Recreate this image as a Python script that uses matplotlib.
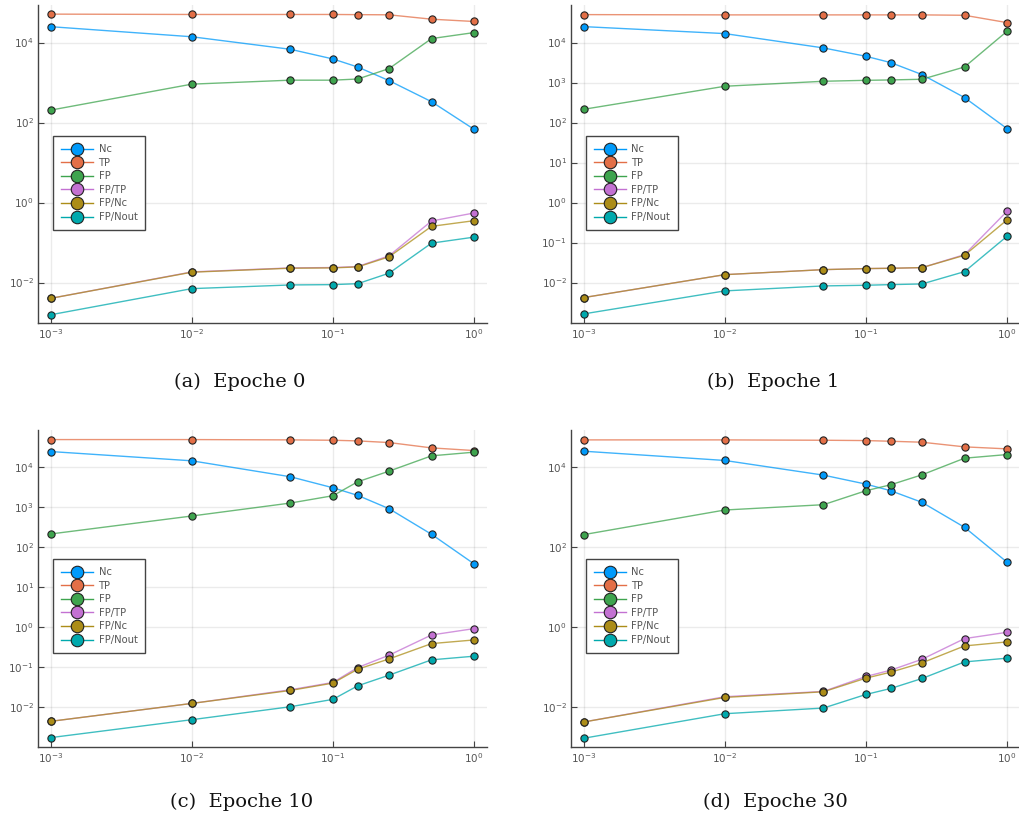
import numpy as np
import matplotlib
matplotlib.use("Agg")
import matplotlib.pyplot as plt
from matplotlib.ticker import FixedLocator, LogFormatterSciNotation, NullLocator
from matplotlib.lines import Line2D

# ---------------- data ----------------
thresholds = [0.001, 0.01, 0.05, 0.1, 0.15, 0.25, 0.5, 1.0]
series_names = ["Nc", "TP", "FP", "FP/TP", "FP/Nc", "FP/Nout"]
captions = ["(a)  Epoche 0", "(b)  Epoche 1", "(c)  Epoche 10", "(d)  Epoche 30"]

# Epoche 0
e0_Nc = [25000, 14000, 6800, 3900, 2450, 1120, 333, 68]
e0_TP = [51500, 50500, 50500, 50500, 50000, 49500, 38500, 33700]
e0_FP = [205, 915, 1150, 1150, 1230, 2240, 12600, 17800]
e0_FP_TP = [0.00404, 0.0185, 0.0233, 0.0238, 0.0252, 0.0467, 0.347, 0.55]
e0_FP_Nc = [0.00404, 0.0182, 0.0229, 0.0233, 0.0247, 0.0441, 0.255, 0.353]
e0_FP_Nout = [0.00157, 0.00707, 0.00873, 0.0089, 0.0094, 0.0172, 0.097, 0.137]

# Epoche 1
e1_Nc = [25100, 16800, 7360, 4550, 3160, 1585, 422, 70.8]
e1_TP = [50100, 49300, 49300, 49300, 49300, 49300, 48200, 31600]
e1_FP = [215, 810, 1080, 1140, 1166, 1212, 2460, 19200]
e1_FP_TP = [0.00422, 0.0158, 0.0211, 0.0224, 0.0228, 0.0237, 0.050, 0.607]
e1_FP_Nc = [0.00422, 0.0158, 0.0211, 0.0224, 0.0228, 0.0237, 0.0482, 0.369]
e1_FP_Nout = [0.00165, 0.0062, 0.00826, 0.00858, 0.0089, 0.00926, 0.0188, 0.144]

# Epoche 10
e10_Nc = [25100, 14700, 5850, 3100, 1995, 926, 211, 38.3]
e10_TP = [50100, 50100, 49200, 48200, 46400, 42200, 31000, 26600]
e10_FP = [215, 607, 1283, 1958, 4385, 8090, 19600, 24200]
e10_FP_TP = [0.0043, 0.0121, 0.0266, 0.0406, 0.0962, 0.196, 0.631, 0.909]
e10_FP_Nc = [0.0043, 0.0121, 0.0256, 0.0391, 0.0874, 0.158, 0.383, 0.473]
e10_FP_Nout = [0.00168, 0.00473, 0.0100, 0.0153, 0.0335, 0.0619, 0.150, 0.185]

# Epoche 30
e30_Nc = [25600, 15000, 6430, 3830, 2610, 1333, 316, 42.2]
e30_TP = [49200, 49200, 48200, 47300, 45500, 43000, 32900, 29300]
e30_FP = [207, 858, 1166, 2610, 3690, 6560, 17100, 21100]
e30_FP_TP = [0.00414, 0.0178, 0.0242, 0.0573, 0.0826, 0.155, 0.511, 0.736]
e30_FP_Nc = [0.00414, 0.0171, 0.0237, 0.0521, 0.0736, 0.126, 0.335, 0.422]
e30_FP_Nout = [0.00162, 0.00668, 0.00926, 0.0203, 0.0287, 0.0511, 0.133, 0.165]

panels = [
    [e0_Nc, e0_TP, e0_FP, e0_FP_TP, e0_FP_Nc, e0_FP_Nout],
    [e1_Nc, e1_TP, e1_FP, e1_FP_TP, e1_FP_Nc, e1_FP_Nout],
    [e10_Nc, e10_TP, e10_FP, e10_FP_TP, e10_FP_Nc, e10_FP_Nout],
    [e30_Nc, e30_TP, e30_FP, e30_FP_TP, e30_FP_Nc, e30_FP_Nout],
]
yticks_even = [1e-2, 1e0, 1e2, 1e4]
yticks_all = [1e-2, 1e-1, 1e0, 1e1, 1e2, 1e3, 1e4]
panel_yticks = [yticks_even, yticks_all, yticks_all, yticks_even]
xticks = [1e-3, 1e-2, 1e-1, 1e0]

colors = ["#009AFA", "#E36F47", "#3EA44E", "#C371D2", "#AC8D18", "#00A9AD"]

# ---------------- layout ----------------
W, H = 1020, 816
fig = plt.figure(figsize=(W / 100, H / 100), dpi=100)
fig.patch.set_facecolor("white")

def frac(x0, y0, x1, y1):
    return [x0 / W, 1 - y1 / H, (x1 - x0) / W, (y1 - y0) / H]

rects = [frac(38, 5, 487, 323), frac(571, 5, 1020, 323),
         frac(38, 430, 487, 747), frac(571, 430, 1020, 747)]
caption_pos = [(240, 382), (773, 382), (242, 802), (775, 802)]

for i, data in enumerate(panels):
    ax = fig.add_axes(rects[i])
    ax.set_xscale("log")
    ax.set_yscale("log")
    handles = []
    for name, vals, c in zip(series_names, data, colors):
        ax.plot(thresholds, vals, color=c, lw=1.0, alpha=0.75, zorder=2)
        ax.plot(thresholds, vals, ls="none", marker="o", markersize=5.2,
                markerfacecolor=c, markeredgecolor="#222222",
                markeredgewidth=0.8, zorder=3)
        handles.append(Line2D([], [], color=c, lw=1.0, marker="o",
                              markersize=9, markerfacecolor=c,
                              markeredgecolor="#222222", markeredgewidth=0.8,
                              label=name))
    ax.set_xlim(10 ** -3.09, 10 ** 0.092)
    ax.set_ylim(10 ** -3.01, 10 ** 4.94)
    ax.xaxis.set_major_locator(FixedLocator(xticks))
    ax.yaxis.set_major_locator(FixedLocator(panel_yticks[i]))
    ax.xaxis.set_minor_locator(NullLocator())
    ax.yaxis.set_minor_locator(NullLocator())
    ax.xaxis.set_major_formatter(LogFormatterSciNotation())
    ax.yaxis.set_major_formatter(LogFormatterSciNotation())
    ax.grid(True, color="#000000", alpha=0.08, lw=1.0)
    ax.set_axisbelow(True)
    for s in ["top", "right"]:
        ax.spines[s].set_visible(False)
    for s in ["left", "bottom"]:
        ax.spines[s].set_color("#444444")
        ax.spines[s].set_linewidth(1.0)
    ax.tick_params(direction="in", length=4, width=0.8, color="#444444",
                   labelsize=7.5, labelcolor="#555555", pad=3)
    top_px = 136 if i < 2 else 559
    y0 = 5 if i < 2 else 430
    y1 = 323 if i < 2 else 747
    leg = ax.legend(handles=handles, loc="upper left",
                    bbox_to_anchor=(15 / 449, (y1 - top_px) / (y1 - y0)),
                    fontsize=7.2, frameon=True, fancybox=False,
                    handlelength=3.2, handletextpad=0.55, labelspacing=0.36,
                    borderpad=0.8, borderaxespad=0.0)
    fr = leg.get_frame()
    fr.set_edgecolor("#444444")
    fr.set_linewidth(1.0)
    fr.set_alpha(1.0)
    for t in leg.get_texts():
        t.set_color("#555555")
    cx, cy = caption_pos[i]
    fig.text(cx / W, 1 - cy / H, captions[i], ha="center", va="center",
             fontsize=14, family="DejaVu Serif", color="#111111")

fig.savefig("out.png", dpi=100, facecolor="white")
